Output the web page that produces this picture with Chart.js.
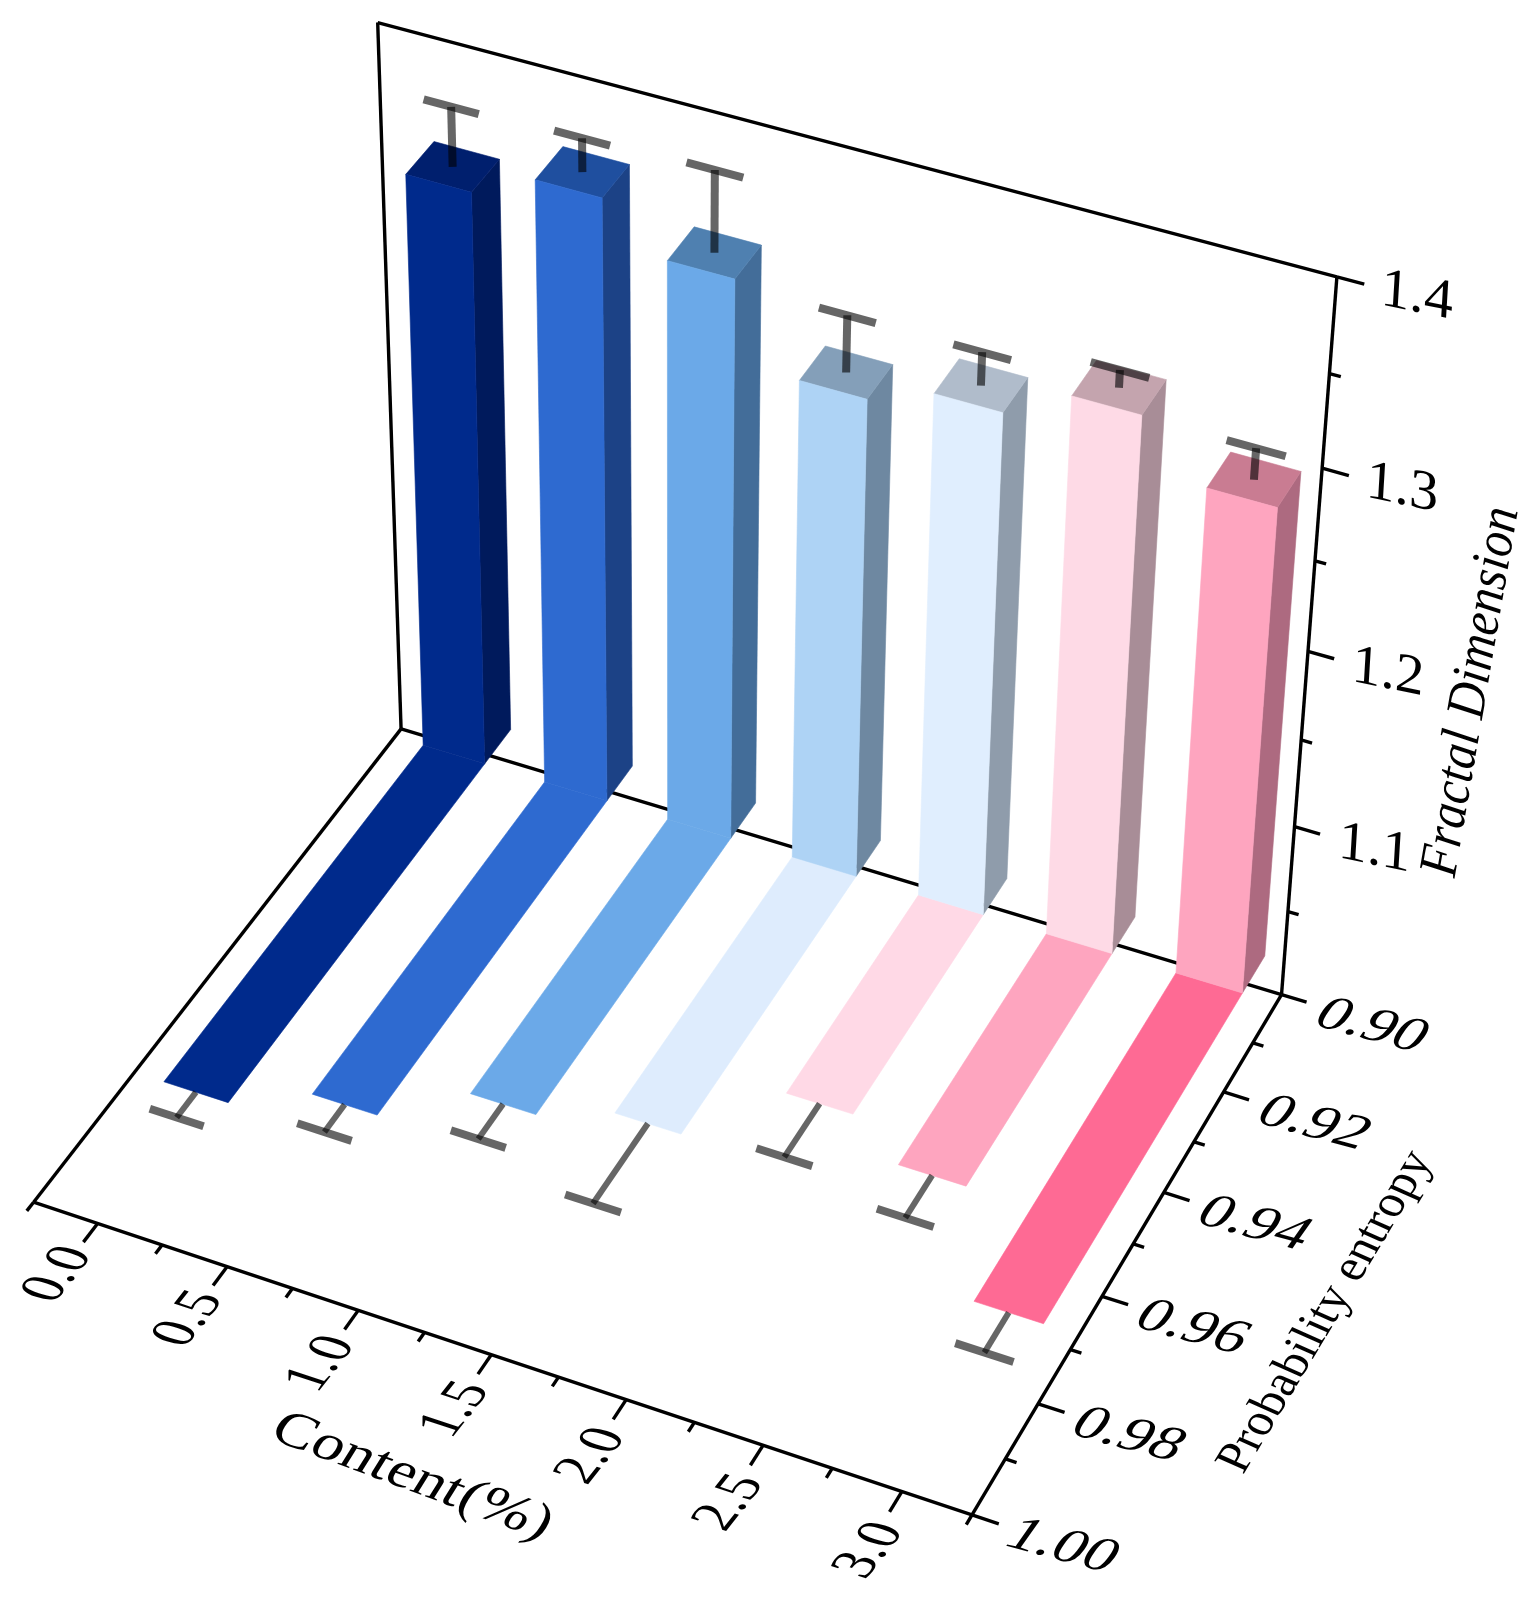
<!DOCTYPE html>
<html>
<head>
<meta charset="utf-8">
<title>Fractal dimension and probability entropy vs content</title>
<style>
  html, body { margin: 0; padding: 0; background: #fff; }
  canvas { display: block; }
</style>
<script src="https://cdn.jsdelivr.net/npm/chart.js@4"></script>
</head>
<body>
<canvas id="bars3d" width="1531" height="1608"></canvas>
<script>
// values
const content = [0, 0.5, 1, 1.5, 2, 2.5, 3];
const fractalDim = [1.328, 1.344, 1.320, 1.275, 1.288, 1.307, 1.278];
const fractalErr = [0.032, 0.018, 0.044, 0.031, 0.018, 0.0095, 0.017];
const entropy = [0.9741, 0.9683, 0.9599, 0.9555, 0.9432, 0.9492, 0.9673];
const entropyErr = [0.0051, 0.0055, 0.007, 0.0158, 0.0107, 0.0083, 0.0075];

const contentTicks = [0, 0.5, 1, 1.5, 2, 2.5, 3];
const contentMinor = [-0.25, 0.25, 0.75, 1.25, 1.75, 2.25, 2.75, 3.25];
const contentLabels = ['0.0', '0.5', '1.0', '1.5', '2.0', '2.5', '3.0'];
const entropyTicks = [0.90, 0.92, 0.94, 0.96, 0.98, 1.00];
const entropyMinor = [0.91, 0.93, 0.95, 0.97, 0.99];
const entropyLabels = ['0.90', '0.92', '0.94', '0.96', '0.98', '1.00'];
const fractalTicks = [1.1, 1.2, 1.3, 1.4];
const fractalMinor = [1.05, 1.15, 1.25, 1.35];
const fractalLabels = ['1.1', '1.2', '1.3', '1.4'];

// colours
const frontColors = ['#002a8c', '#2e6ad0', '#6ba9e8', '#aed3f5', '#e0eefe', '#fedae6', '#fea5bf'];
const topColors = ['#001f6e', '#1f4f9f', '#4f80b0', '#849fb9', '#b0bccb', '#c4a4ae', '#c97c92'];
const sideColors = ['#001a5c', '#1c4286', '#436d99', '#6e88a1', '#8f9cab', '#a88d97', '#ad6a80'];
const floorColors = ['#002a8c', '#2e6ad0', '#6ba9e8', '#deecfd', '#ffd9e6', '#fea5bf', '#fe6a94'];

// bar geometry in data units
const BAR_HALF = 0.127, BAR_SHIFT = -0.006;
const WALL_BACK = 0.894, WALL_FRONT = 0.9018;
const CAP_HALF = 0.106;
const SERIF = '"Liberation Serif", "Times New Roman", serif';

// camera: where the axis box lands on the page [x, entropy, fractal, px, py]
const anchors = [
  [-0.25, 0.90, 1.0, 401, 728],
  [3.25, 0.90, 1.0, 1281, 994],
  [-0.25, 1.00, 1.0, 33, 1203],
  [3.25, 1.00, 1.0, 973, 1513],
  [-0.25, 0.90, 1.4, 378, 23],
  [3.25, 0.90, 1.4, 1336, 275],
  [3.25, 0.90, 1.3, 1322, 469],
  [3.25, 0.90, 1.2, 1309, 652],
  [3.25, 0.90, 1.1, 1295, 828],
  [3.25, 0.98, 1.0, 1037, 1404],
  [0, 1.00, 1.0, 98, 1223],
  [3, 1.00, 1.0, 902, 1493]
];

function solve(A, b) {
  const n = b.length;
  for (let i = 0; i < n; i++) {
    let piv = i;
    for (let r = i + 1; r < n; r++) if (Math.abs(A[r][i]) > Math.abs(A[piv][i])) piv = r;
    [A[i], A[piv]] = [A[piv], A[i]];
    [b[i], b[piv]] = [b[piv], b[i]];
    for (let r = i + 1; r < n; r++) {
      const f = A[r][i] / A[i][i];
      for (let c = i; c < n; c++) A[r][c] -= f * A[i][c];
      b[r] -= f * b[i];
    }
  }
  const h = new Array(n).fill(0);
  for (let i = n - 1; i >= 0; i--) {
    let s = b[i];
    for (let c = i + 1; c < n; c++) s -= A[i][c] * h[c];
    h[i] = s / A[i][i];
  }
  return h;
}

// least squares fit of a projective 3D -> 2D map
function fitCamera(chart) {
  const rows = [], rhs = [];
  anchors.forEach(a => {
    const u = dec(chart.scales.x, a[0]), v = dec(chart.scales.p, a[1]), w = dec(chart.scales.z, a[2]);
    const X = a[3] / 1000, Y = a[4] / 1000;
    rows.push([u, v, w, 1, 0, 0, 0, 0, -X * u, -X * v, -X * w]); rhs.push(X);
    rows.push([0, 0, 0, 0, u, v, w, 1, -Y * u, -Y * v, -Y * w]); rhs.push(Y);
  });
  const ata = [], atb = [];
  for (let i = 0; i < 11; i++) {
    ata.push(new Array(11).fill(0));
    atb.push(0);
    rows.forEach((r, k) => {
      for (let j = 0; j < 11; j++) ata[i][j] += r[i] * r[j];
      atb[i] += r[i] * rhs[k];
    });
  }
  return solve(ata, atb);
}

function dec(scale, value) {
  return scale.getDecimalForPixel(scale.getPixelForValue(value));
}

const bars3d = {
  id: 'bars3d',
  afterDatasetsDraw(chart) {
    const ctx = chart.ctx;
    const h = fitCamera(chart);
    const { x: sx, p: sp, z: sz } = chart.scales;
    const pt = (x, p, z) => {
      const u = dec(sx, x), v = dec(sp, p), w = dec(sz, z);
      const d = h[8] * u + h[9] * v + h[10] * w + 1;
      return [(h[0] * u + h[1] * v + h[2] * w + h[3]) / d * 1000, (h[4] * u + h[5] * v + h[6] * w + h[7]) / d * 1000];
    };
    const poly = (pts, color) => {
      ctx.beginPath();
      pts.forEach((q, i) => i ? ctx.lineTo(q[0], q[1]) : ctx.moveTo(q[0], q[1]));
      ctx.closePath();
      ctx.fillStyle = color;
      ctx.fill();
      ctx.strokeStyle = color;
      ctx.lineWidth = 0.6;
      ctx.stroke();
    };
    const seg = (a, b, width, color) => {
      ctx.beginPath();
      ctx.moveTo(a[0], a[1]);
      ctx.lineTo(b[0], b[1]);
      ctx.lineWidth = width;
      ctx.strokeStyle = color;
      ctx.stroke();
    };
    const text = (str, anchor, dx, dy, B, U, font) => {
      ctx.save();
      ctx.setTransform(B[0], B[1], -U[0], -U[1], anchor[0] + dx, anchor[1] + dy);
      ctx.font = font;
      ctx.fillStyle = '#000';
      ctx.textAlign = 'center';
      ctx.textBaseline = 'middle';
      ctx.fillText(str, 0, 0);
      ctx.restore();
    };

    ctx.save();
    ctx.lineCap = 'butt';
    ctx.lineJoin = 'miter';

    // axis box
    const XMIN = sx.min, XMAX = sx.max, PMIN = sp.min, PMAX = sp.max, ZMIN = sz.min, ZMAX = sz.max;
    const AX = '#000', LW = 3.4;
    seg(pt(XMIN, PMIN, ZMAX), pt(XMAX, PMIN, ZMAX), LW, AX);
    seg(pt(XMIN, PMIN, ZMAX), pt(XMIN, PMIN, ZMIN), LW, AX);
    seg(pt(XMAX, PMIN, ZMAX), pt(XMAX, PMIN, ZMIN), LW, AX);
    seg(pt(XMIN, PMIN, ZMIN), pt(XMAX, PMIN, ZMIN), LW, AX);
    seg(pt(XMIN, PMIN, ZMIN), pt(XMIN, PMAX, ZMIN), LW, AX);
    seg(pt(XMIN, PMAX, ZMIN), pt(XMAX, PMAX, ZMIN), LW, AX);
    seg(pt(XMAX, PMIN, ZMIN), pt(XMAX, PMAX, ZMIN), LW, AX);

    // ticks
    contentTicks.forEach(v => seg(pt(v, PMAX, ZMIN), pt(v, PMAX + 0.0036, ZMIN), LW, AX));
    contentMinor.forEach(v => seg(pt(v, PMAX, ZMIN), pt(v, PMAX + 0.0017, ZMIN), LW, AX));
    entropyTicks.forEach(v => seg(pt(XMAX, v, ZMIN), pt(XMAX + 0.095, v, ZMIN), LW, AX));
    entropyMinor.forEach(v => seg(pt(XMAX, v, ZMIN), pt(XMAX + 0.04, v, ZMIN), LW, AX));
    fractalTicks.forEach(v => seg(pt(XMAX, PMIN, v), pt(XMAX + 0.095, PMIN, v), LW, AX));
    fractalMinor.forEach(v => seg(pt(XMAX, PMIN, v), pt(XMAX + 0.04, PMIN, v), LW, AX));

    const wallData = chart.data.datasets[0].data;
    const floorData = chart.data.datasets[1].data;
    const ERR = 'rgba(0,0,0,0.6)';

    // entropy bars lying on the floor
    floorData.forEach((d, i) => {
      const c = d.x + BAR_SHIFT, l = c - BAR_HALF, r = c + BAR_HALF;
      poly([pt(l, WALL_FRONT, ZMIN), pt(r, WALL_FRONT, ZMIN), pt(r, d.y, ZMIN), pt(l, d.y, ZMIN)], floorColors[i]);
      const e = d.y + entropyErr[i];
      seg(pt(c, d.y, ZMIN), pt(c, e, ZMIN), 6, ERR);
      seg(pt(c - CAP_HALF, e, ZMIN), pt(c + CAP_HALF, e, ZMIN), 8, ERR);
    });

    // fractal dimension bars standing at the back wall
    wallData.forEach((d, i) => {
      const c = d.x + BAR_SHIFT, l = c - BAR_HALF, r = c + BAR_HALF;
      poly([pt(r, WALL_FRONT, ZMIN), pt(r, WALL_BACK, ZMIN), pt(r, WALL_BACK, d.y), pt(r, WALL_FRONT, d.y)], sideColors[i]);
      poly([pt(l, WALL_FRONT, d.y), pt(r, WALL_FRONT, d.y), pt(r, WALL_BACK, d.y), pt(l, WALL_BACK, d.y)], topColors[i]);
      poly([pt(l, WALL_FRONT, ZMIN), pt(r, WALL_FRONT, ZMIN), pt(r, WALL_FRONT, d.y), pt(l, WALL_FRONT, d.y)], frontColors[i]);
      const mid = (WALL_BACK + WALL_FRONT) / 2, e = d.y + fractalErr[i];
      seg(pt(c, mid, d.y), pt(c, mid, e), 8, ERR);
      seg(pt(c - CAP_HALF, mid, e), pt(c + CAP_HALF, mid, e), 8, ERR);
    });

    // tick labels, sheared to sit in their plane like the original
    const font = '56px ' + SERIF;
    contentTicks.forEach((v, i) => text(contentLabels[i], pt(v, PMAX, ZMIN), -39 + i * 1.2, 51 + i * 1.3, [0.57, -0.72], [-1.0, -0.33], font));
    entropyTicks.forEach((v, i) => text(entropyLabels[i], pt(XMAX, v, ZMIN), 90, 32, [1.08, 0.29], [0.55, -0.78], font));
    fractalTicks.forEach((v, i) => text(fractalLabels[i], pt(XMAX, PMIN, v), 80, 23 - i, [1.03, 0.21], [0.06, -1], font));

    // axis titles
    text('Fractal Dimension', [1472, 692], 0, 0, [0.155, -0.9], [-1, -0.16], 'italic 54px ' + SERIF);
    text('Probability entropy', [1326, 1312], 0, 0, [0.49, -0.815], [-0.9, -0.4], '50px ' + SERIF);
    text('Content(%)', [412, 1477], 0, 0, [1.05, 0.39], [0.5, -0.8], '56px ' + SERIF);

    ctx.restore();
  }
};

new Chart(document.getElementById('bars3d'), {
  type: 'scatter',
  data: {
    datasets: [
      { label: 'Fractal Dimension', xAxisID: 'x', yAxisID: 'z', pointRadius: 0,
        data: content.map((x, i) => ({ x, y: fractalDim[i] })) },
      { label: 'Probability entropy', xAxisID: 'x', yAxisID: 'p', pointRadius: 0,
        data: content.map((x, i) => ({ x, y: entropy[i] })) }
    ]
  },
  options: {
    responsive: false,
    animation: false,
    layout: { padding: 0 },
    plugins: { legend: { display: false }, tooltip: { enabled: false } },
    scales: {
      x: { type: 'linear', min: -0.25, max: 3.25, display: false },
      z: { type: 'linear', axis: 'y', min: 1.0, max: 1.4, display: false },
      p: { type: 'linear', axis: 'y', min: 0.90, max: 1.00, display: false }
    }
  },
  plugins: [bars3d]
});
</script>
</body>
</html>
